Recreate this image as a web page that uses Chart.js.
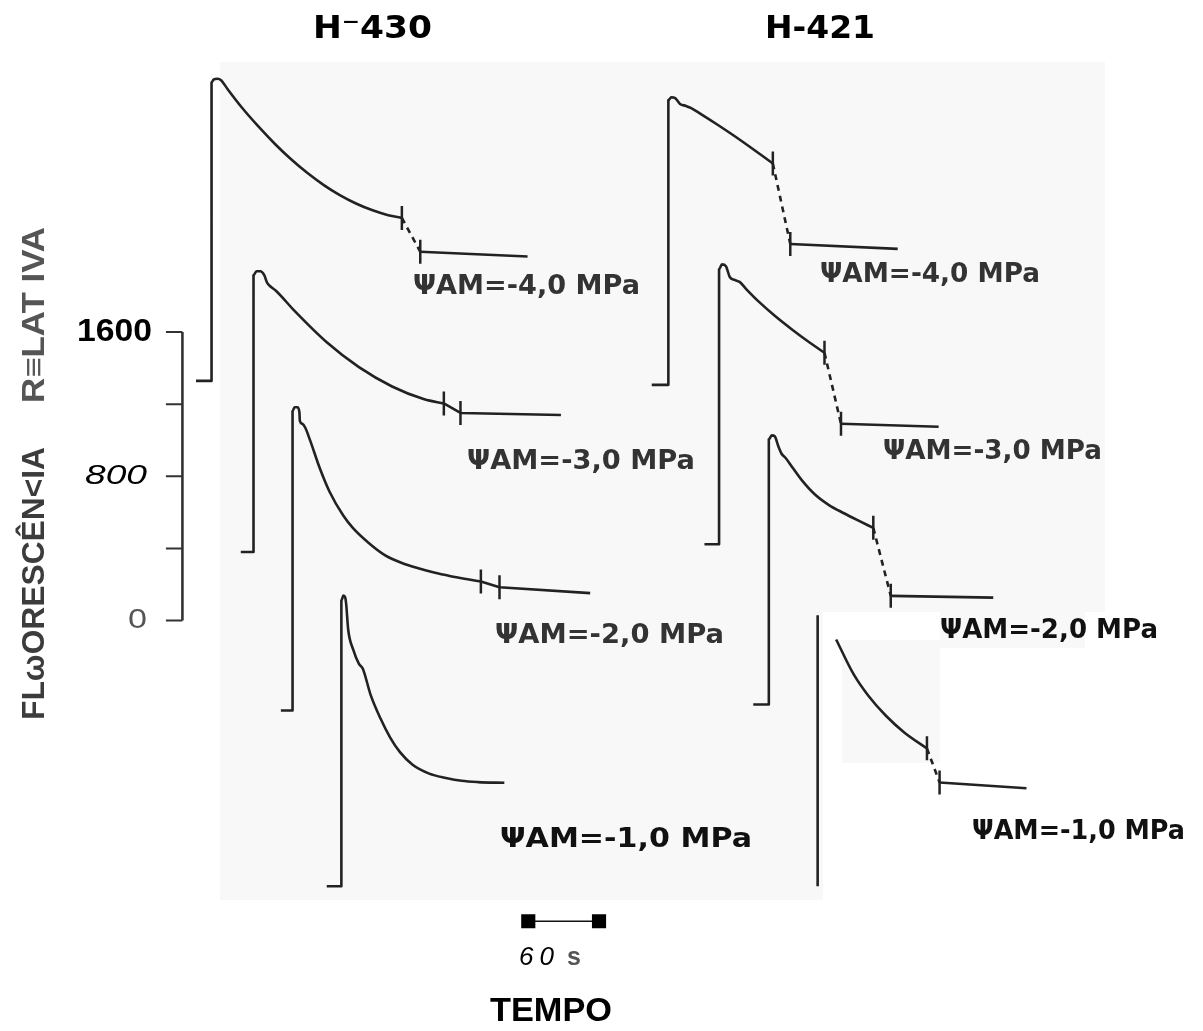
<!DOCTYPE html>
<html lang="pt">
<head>
<meta charset="utf-8">
<title>Fluorescência relativa - H-430 e H-421</title>
<script src="https://cdn.jsdelivr.net/npm/chart.js@4.4.1/dist/chart.umd.min.js"></script>
<style>
  html, body { margin: 0; padding: 0; background: #fff; }
  #wrap { position: relative; width: 1203px; height: 1031px; }
</style>
</head>
<body>
<div id="wrap"><canvas id="fluorChart"></canvas></div>
<script>
// Each trace: time (s) from light-on, fluorescence (relative units) above its dark level.
// Order of traces in each column: -4.0, -3.0, -2.0, -1.0 MPa
const potentials = ['-4,0', '-3,0', '-2,0', '-1,0'];

const h430Time = [
    [-13.2, 0, 0, 1.7, 5.0, 8.3, 13.2, 25.7, 39.7, 53.8, 67.0, 81.1, 95.2, 108.4, 122.5, 136.6, 149.8, 161.4],
    [-10.8, 0, 0, 2.5, 5.8, 9.1, 11.6, 14.9, 19.0, 34.8, 62.1, 89.4, 117.5, 144.8, 161.4],
    [-9.9, 0, 0, 1.7, 4.1, 5.8, 6.2, 8.3, 10.8, 14.9, 23.2, 31.4, 43.0, 51.3, 64.6, 78.6, 92.7, 105.9, 120.0, 134.1, 147.3, 159.7],
    [-12.4, 0, 0, 1.7, 3.3, 4.1, 5.8, 9.9, 14.9, 18.2, 24.8, 33.1, 41.4, 49.7, 60.4, 74.5, 88.6, 101.9, 115.9, 138.2]
];
const h430Fluor = [
    [0, 0, 1655, 1671, 1676, 1666, 1622, 1516, 1411, 1314, 1232, 1154, 1086, 1032, 984, 946, 919, 904],
    [0, 0, 1535, 1557, 1557, 1535, 1492, 1470, 1449, 1337, 1163, 1025, 918, 847, 824],
    [0, 0, 1660, 1682, 1682, 1655, 1606, 1590, 1568, 1498, 1342, 1213, 1081, 1011, 929, 860, 818, 790, 765, 745, 729, 715],
    [0, 0, 1585, 1612, 1601, 1563, 1423, 1315, 1234, 1207, 1062, 932, 825, 744, 674, 625, 601, 585, 578, 574]
];
// after the first mark: mark 1, mark 2, end of record
const h430TailTime = [[161.4, 177, 268], [161.4, 175.5, 260.7], [159.7, 175.5, 252.4], []];
const h430TailFluor = [[904, 716, 690], [824, 771, 760], [715, 684, 651], []];

const h421Time = [
    [-14.1, 0, 0, 2.5, 5.8, 9.9, 14.9, 19.0, 27.3, 41.4, 55.4, 68.7, 88.6],
    [-12.4, 0, 0, 2.5, 5.8, 9.1, 13.2, 17.4, 23.2, 33.9, 48.0, 62.1, 75.3, 89.4],
    [-13.2, 0, 0, 2.5, 5.0, 8.3, 10.8, 14.1, 19.9, 28.1, 38.9, 51.3, 63.7, 76.1, 88.6],
    [0, 0, 8, 15.7, 30.6, 43.0, 57.9, 73.7, 92.7]
];
const h421Fluor = [
    [0, 0, 1579, 1595, 1590, 1558, 1547, 1536, 1503, 1444, 1383, 1322, 1228],
    [0, 0, 1525, 1552, 1542, 1482, 1466, 1455, 1414, 1344, 1263, 1190, 1126, 1062],
    [0, 0, 1471, 1493, 1488, 1428, 1391, 1369, 1316, 1243, 1166, 1105, 1061, 1020, 980],
    [0, 1503, null, 1369, 1175, 1057, 946, 852, 765]
];
const h421TailTime = [[88.6, 103.4, 194.5], [89.4, 103.4, 186.2], [88.6, 103.4, 190.3], [92.7, 103.4, 177.1]];
const h421TailFluor = [[1228, 781, 754], [1062, 668, 652], [980, 603, 593], [765, 576, 544]];

// where each trace sits on the shared time / fluorescence frame
const h430Onset = [-268.6, -233.0, -199.9, -158.5];
const h430Base = [1329, 380, -499, -1474];
const h421Onset = [118.8, 161.8, 204.0, 245.4];
const h421Base = [1307, 423, -466, -1474];

// calibration bars
const scaleTicks = [0, 400, 800, 1200, 1600];
const scaleTickLabels = ['0', '', '800', '', '1600'];
const timeBar = [0, 60];

const ink = '#222';
const SCALE_T = -293.3;     // time position of the fluorescence bar
const SCALE_TICK = 14;      // tick length (s units)
const TIMEBAR_F = -1668;    // height of the 60 s bar

function pts(ts, fs, t0, f0) {
    return ts.map((t, i) => ({ x: t0 + t, y: fs[i] === null ? null : f0 + fs[i] }));
}

function columnSets(times, fluors, tailT, tailF, onsets, bases, dashed) {
    const sets = [];
    times.forEach((ts, i) => {
        sets.push({
            data: pts(ts, fluors[i], onsets[i], bases[i]),
            cubicInterpolationMode: 'monotone'
        });
        if (tailT[i].length) {
            const tail = pts(tailT[i], tailF[i], onsets[i], bases[i]);
            sets.push({
                data: tail,
                tension: 0,
                segment: {
                    borderDash: c => (dashed.includes(i) && c.p0DataIndex === 0) ? [6, 5] : undefined
                }
            });
            // the two short marks across the record
            sets.push({
                data: tail.slice(0, 2),
                showLine: false,
                pointStyle: 'line',
                rotation: 90,
                pointRadius: 12,
                pointBorderWidth: 2.5,
                pointBorderColor: ink
            });
        }
    });
    return sets;
}

function scaleBarSets() {
    const ticks = [];
    scaleTicks.forEach(v => {
        ticks.push({ x: SCALE_T - SCALE_TICK, y: v }, { x: SCALE_T, y: v }, { x: SCALE_T - SCALE_TICK - 1, y: null });
    });
    return [
        { data: [{ x: SCALE_T, y: scaleTicks[0] }, { x: SCALE_T, y: scaleTicks[scaleTicks.length - 1] }], borderColor: '#333' },
        { data: ticks, borderColor: '#333', borderWidth: 2 },
        {
            data: timeBar.map(t => ({ x: t, y: TIMEBAR_F })),
            borderColor: '#111', borderWidth: 1.5,
            pointStyle: 'rect', pointRadius: 10,
            pointBackgroundColor: '#000', pointBorderColor: '#000', pointBorderWidth: 0
        }
    ];
}

// text drawn with a given visual width (the scan letters are spaced wide)
function fitText(ctx, text, left, midY, width, font, color) {
    ctx.save();
    ctx.font = font;
    ctx.fillStyle = color;
    ctx.textBaseline = 'middle';
    ctx.textAlign = 'left';
    const w = ctx.measureText(text).width;
    ctx.translate(left, midY);
    ctx.scale(width / w, 1);
    ctx.fillText(text, 0, 0);
    ctx.restore();
}

const paperPlugin = {
    id: 'paper',
    beforeDraw(chart) {
        const ctx = chart.ctx;
        ctx.save();
        ctx.fillStyle = '#fff';
        ctx.fillRect(0, 0, chart.width, chart.height);
        ctx.fillStyle = '#f8f8f8';
        ctx.fillRect(220, 62, 885, 838);
        ctx.fillStyle = '#fff';
        ctx.fillRect(823, 612, 282, 288);
        ctx.fillStyle = '#f8f8f8';
        ctx.fillRect(940, 608, 145, 40);
        ctx.fillRect(842, 640, 98, 123);
        ctx.restore();
    }
};

const textPlugin = {
    id: 'texts',
    afterDraw(chart) {
        const ctx = chart.ctx;
        const y = chart.scales.y;
        const lab = 'bold 26px "DejaVu Sans"';

        // column headers
        fitText(ctx, 'H\u207B430', 313, 30, 119, 'bold 32px "DejaVu Sans"', '#000');
        fitText(ctx, 'H-421', 765, 30, 110, 'bold 32px "DejaVu Sans"', '#000');

        // fluorescence bar labels
        const tickFonts = {
            '0': ['28px "Liberation Sans"', '#555', 128, 19],
            '800': ['italic 28px "Liberation Sans"', '#000', 85, 62],
            '1600': ['bold 32px "Liberation Sans"', '#000', 77, 75]
        };
        scaleTicks.forEach((v, i) => {
            const t = scaleTickLabels[i];
            if (!t) return;
            const f = tickFonts[t];
            fitText(ctx, t, f[2], y.getPixelForValue(v), f[3], f[0], f[1]);
        });

        // rotated axis title
        ctx.save();
        ctx.translate(35, 720);
        ctx.rotate(-Math.PI / 2);
        fitText(ctx, 'FL\u03C9ORESC\u00CAN<IA', 0, 0, 273, 'bold 31px "Liberation Sans"', '#3c3c3c');
        ctx.restore();
        ctx.save();
        ctx.translate(35, 403);
        ctx.rotate(-Math.PI / 2);
        fitText(ctx, 'R\u2261LAT IVA', 0, 0, 176, 'bold 31px "Liberation Sans"', '#555');
        ctx.restore();

        // potential labels
        const h430Lab = [[413, 287, 227], [467, 462, 228], [495, 636, 229], [500, 840, 252]];
        const h421Lab = [[820, 275, 220], [883, 452, 219], [940, 631, 218], [972, 832, 213]];
        potentials.forEach((p, i) => {
            const txt = '\u03A8AM=' + p + ' MPa';
            const a = h430Lab[i], b = h421Lab[i];
            fitText(ctx, txt, a[0], a[1], a[2], lab, i === 3 ? '#111' : '#333');
            fitText(ctx, txt, b[0], b[1], b[2], lab, i >= 2 ? '#111' : '#333');
        });

        // time bar
        ctx.save();
        ctx.font = 'italic 26px "Liberation Sans"';
        ctx.fillStyle = '#000';
        ctx.textBaseline = 'middle';
        if ('letterSpacing' in ctx) ctx.letterSpacing = '6px';
        ctx.fillText('60', 519, 958);
        ctx.letterSpacing = '0px';
        ctx.font = 'bold 25px "Liberation Sans"';
        ctx.fillStyle = '#555';
        ctx.fillText('s', 567, 958);
        ctx.restore();
        fitText(ctx, 'TEMPO', 490, 1012, 122, 'bold 33px "Liberation Sans"', '#000');
    }
};

function initChart() {
    const ctx = document.getElementById('fluorChart').getContext('2d');
    const datasets = [
        ...columnSets(h430Time, h430Fluor, h430TailTime, h430TailFluor, h430Onset, h430Base, [0]),
        ...columnSets(h421Time, h421Fluor, h421TailTime, h421TailFluor, h421Onset, h421Base, [0, 1, 2, 3]),
        ...scaleBarSets()
    ];
    datasets.forEach(d => { if (d.showLine === undefined) d.showLine = true; });

    new Chart(ctx, {
        type: 'scatter',
        data: { datasets },
        options: {
            responsive: true,
            maintainAspectRatio: false,
            animation: false,
            events: [],
            layout: { padding: 0 },
            plugins: {
                legend: { display: false },
                tooltip: { enabled: false }
            },
            elements: {
                point: { radius: 0, hoverRadius: 0 },
                line: { borderColor: ink, borderWidth: 2.6, borderJoinStyle: 'round', borderCapStyle: 'butt' }
            },
            scales: {
                x: { type: 'linear', min: -435.7, max: 559.9, display: false },
                y: { type: 'linear', min: -2196, max: 3361, display: false }
            }
        },
        plugins: [paperPlugin, textPlugin]
    });
}

document.addEventListener('DOMContentLoaded', initChart);
</script>
</body>
</html>
